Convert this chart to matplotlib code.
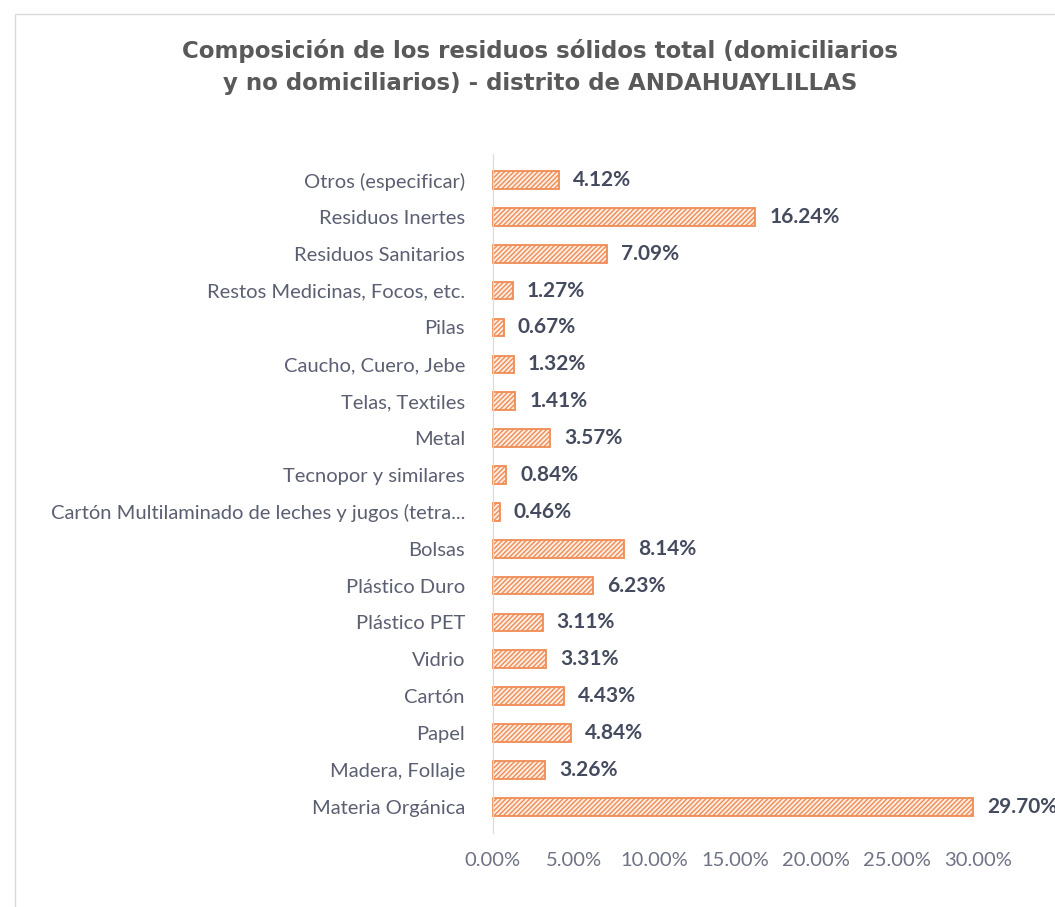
import matplotlib.pyplot as plt
from matplotlib.patches import Rectangle
from matplotlib.ticker import FuncFormatter

plt.rcParams['font.family'] = ['Lato', 'DejaVu Sans']
plt.rcParams['hatch.color'] = '#F29A68'
plt.rcParams['hatch.linewidth'] = 1.0

# Categories listed from bottom to top
categorias = [
    'Materia Orgánica', 'Madera, Follaje', 'Papel', 'Cartón', 'Vidrio',
    'Plástico PET', 'Plástico Duro', 'Bolsas',
    'Cartón Multilaminado de leches y jugos (tetra...',
    'Tecnopor y similares', 'Metal', 'Telas, Textiles', 'Caucho, Cuero, Jebe',
    'Pilas', 'Restos Medicinas, Focos, etc.', 'Residuos Sanitarios',
    'Residuos Inertes', 'Otros (especificar)',
]
porcentajes = [29.70, 3.26, 4.84, 4.43, 3.31, 3.11, 6.23, 8.14, 0.46,
               0.84, 3.57, 1.41, 1.32, 0.67, 1.27, 7.09, 16.24, 4.12]
ticks = [0, 5, 10, 15, 20, 25, 30]

fig = plt.figure(figsize=(10.55, 9.07), dpi=100)
fig.patches.append(Rectangle((0.014, -0.01), 1.0, 0.995, transform=fig.transFigure,
                             fill=False, edgecolor='#D9D9D9', linewidth=1.0))

ax = fig.add_axes([0.467, 0.082, 0.46, 0.748])
pos = range(len(categorias))
ax.barh(pos, porcentajes, height=0.48, color='#FDEDE3', edgecolor='#F08C55',
        hatch='///////', linewidth=1.3)

for y, v in zip(pos, porcentajes):
    ax.text(v + 0.85, y, f'{v:.2f}%', va='center', ha='left', fontsize=15,
            fontweight='bold', color='#454B5E')

ax.set_yticks(list(pos))
ax.set_yticklabels(categorias, fontsize=14.5, color='#5B5F72')
ax.set_xticks(ticks)
ax.xaxis.set_major_formatter(FuncFormatter(lambda x, p: f'{x:.2f}%'))
ax.tick_params(axis='x', labelsize=14.5, colors='#6E7284', length=0, pad=14)
ax.tick_params(axis='y', length=0, pad=20)
ax.set_xlim(0, 30)
ax.set_ylim(-0.7, len(categorias) - 0.3)
for s in ['top', 'right', 'bottom']:
    ax.spines[s].set_visible(False)
ax.spines['left'].set_color('#D9D9D9')
for p in ax.patches:
    p.set_clip_on(False)

fig.text(0.512, 0.926, 'Composición de los residuos sólidos total (domiciliarios\n'
         'y no domiciliarios) - distrito de ANDAHUAYLILLAS',
         ha='center', va='center', fontsize=16.5, fontweight='bold',
         family=['DejaVu Sans'], color='#595959', linespacing=1.5)

fig.savefig('out.png', dpi=100)
